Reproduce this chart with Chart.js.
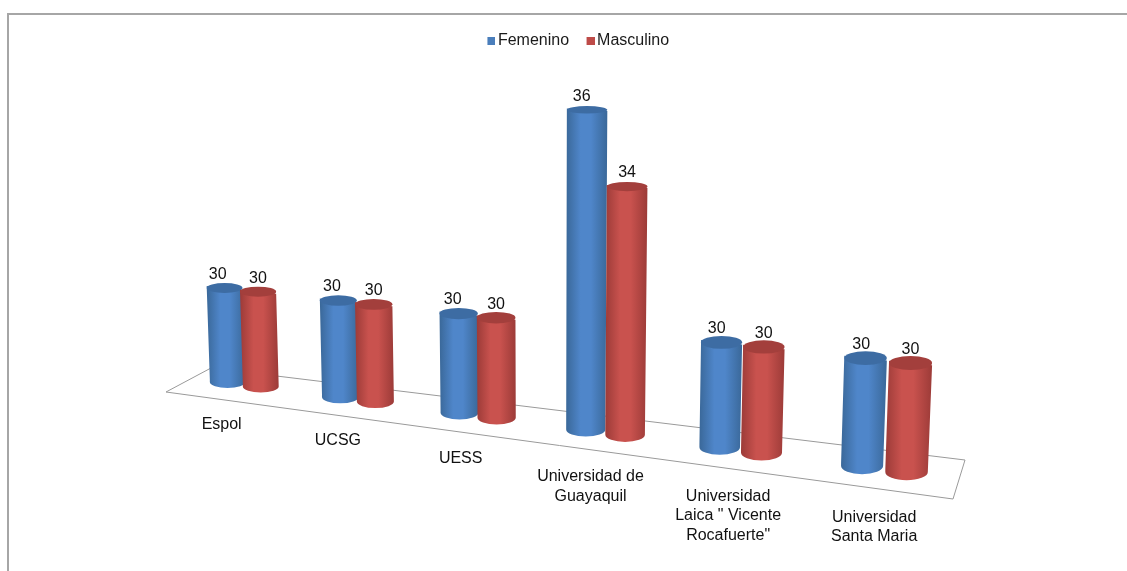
<!DOCTYPE html>
<html>
<head>
<meta charset="utf-8">
<style>
  html, body { margin: 0; background: #fff; overflow: hidden; width: 1127px; height: 571px; }
  #frame { position: absolute; left: 7px; top: 13px; width: 1200px; height: 600px; border-top: 2px solid #a6a6a6; border-left: 2px solid #a6a6a6; }
  #wrap { position: absolute; left: 0; top: 0; width: 1158px; height: 571px; }
</style>
<script src="https://cdn.jsdelivr.net/npm/chart.js@4/dist/chart.umd.min.js"></script>
</head>
<body>
<div id="frame"></div>
<div id="wrap"><canvas id="c" width="1158" height="571"></canvas></div>
<script>
const categories = ['Espol', 'UCSG', 'UESS', ['Universidad de', 'Guayaquil'], ['Universidad', 'Laica " Vicente', 'Rocafuerte"'], ['Universidad', 'Santa Maria']];
const femenino = [30, 30, 30, 36, 30, 30];
const masculino = [30, 30, 30, 34, 30, 30];

const FONT = '16px "Liberation Sans", Arial, sans-serif';

// 차트 평면(u, v: 0~1) -> 화면 좌표. 원본의 3D 원근을 평면 호모그래피로 근사
const planeFit = [
  [0.0583, 0, 227.5, 382], [0.0583, 0.29, 224.5, 288],
  [0.9417, 0, 906.5, 472], [0.9417, 0.29, 910.5, 363],
];
const floorQuad = [[166, 392], [211, 368], [965, 460], [953, 499]];

function solveHomography(pairs) {
  const m = [];
  pairs.forEach(([u, v, x, y]) => {
    m.push([u, v, 1, 0, 0, 0, -u * x, -v * x, x]);
    m.push([0, 0, 0, u, v, 1, -u * y, -v * y, y]);
  });
  for (let i = 0; i < 8; i++) {
    let p = i;
    for (let r = i + 1; r < 8; r++) if (Math.abs(m[r][i]) > Math.abs(m[p][i])) p = r;
    [m[i], m[p]] = [m[p], m[i]];
    for (let r = 0; r < 8; r++) {
      if (r === i) continue;
      const f = m[r][i] / m[i][i];
      for (let c = i; c < 9; c++) m[r][c] -= f * m[i][c];
    }
  }
  return m.map((row, i) => row[8] / row[i]);
}
const H = solveHomography(planeFit);
function project(u, v) {
  const w = H[6] * u + H[7] * v + 1;
  return { x: (H[0] * u + H[1] * v + H[2]) / w, y: (H[3] * u + H[4] * v + H[5]) / w };
}

// 범례용 작은 사각형 (오른쪽으로 치우쳐 글자와 간격을 좁힘)
function legendBox(color) {
  const b = document.createElement('canvas');
  b.width = 12; b.height = 8;
  const g = b.getContext('2d');
  g.fillStyle = color;
  g.fillRect(4, 0, 8, 8);
  return b;
}

const shades = [
  { edge: '#3a6899', mid: '#4f86ca', cap: '#3d6ca3' },
  { edge: '#9c3b38', mid: '#c9524e', cap: '#a33f3c' },
];

function drawCylinder(ctx, el, area, shade) {
  const uMid = (el.x - area.left) / area.width;
  // 오른쪽으로 갈수록 호모그래피가 폭을 과하게 키워서 보정
  const half = el.width / 2 * (1 - 0.14 * (uMid - 0.06)) / area.width;
  const uL = uMid - half, uR = uMid + half;
  const vT = (area.bottom - el.y) / area.height;
  // 막대 base는 0 기준이라 축 아래로 나가므로 바닥(v=0)에서 자른다
  const vB = Math.max(0, (area.bottom - el.base) / area.height);
  const tl = project(uL, vT), tr = project(uR, vT), bl = project(uL, vB), br = project(uR, vB);
  const flat = v => 0.36 - 0.2 * v + 0.06 * (uMid - 0.5);
  const rxT = (tr.x - tl.x) / 2, rxB = (br.x - bl.x) / 2;

  const grad = ctx.createLinearGradient(Math.min(tl.x, bl.x), 0, Math.max(tr.x, br.x), 0);
  grad.addColorStop(0, shade.edge);
  grad.addColorStop(0.35, shade.mid);
  grad.addColorStop(0.6, shade.mid);
  grad.addColorStop(1, shade.edge);

  ctx.beginPath();
  ctx.moveTo(tl.x, tl.y);
  ctx.lineTo(bl.x, bl.y);
  ctx.ellipse((bl.x + br.x) / 2, (bl.y + br.y) / 2, rxB, rxB * flat(vB), 0, Math.PI, 0, true);
  ctx.lineTo(tr.x, tr.y);
  ctx.closePath();
  ctx.fillStyle = grad;
  ctx.fill();

  ctx.beginPath();
  ctx.ellipse((tl.x + tr.x) / 2, (tl.y + tr.y) / 2, rxT, rxT * flat(vT), 0, 0, Math.PI * 2);
  ctx.fillStyle = shade.cap;
  ctx.fill();
}

const cylinderPlugin = {
  id: 'cylinders',
  // 기본 막대 대신 스케일이 계산한 막대 요소로 원기둥을 그린다
  beforeDatasetsDraw(chart) {
    const { ctx, chartArea: area, data } = chart;
    ctx.save();
    ctx.beginPath();
    floorQuad.forEach(([x, y], i) => i ? ctx.lineTo(x, y) : ctx.moveTo(x, y));
    ctx.closePath();
    ctx.strokeStyle = '#9a9a9a';
    ctx.lineWidth = 1;
    ctx.stroke();

    const metas = data.datasets.map((_, i) => chart.getDatasetMeta(i));
    data.labels.forEach((_, i) => {
      metas.forEach((meta, d) => drawCylinder(ctx, meta.data[i], area, shades[d]));
    });

    ctx.font = FONT;
    ctx.fillStyle = '#111';
    ctx.textAlign = 'center';
    ctx.textBaseline = 'middle';
    metas.forEach((meta, d) => {
      meta.data.forEach((el, i) => {
        const u = (el.x - area.left) / area.width;
        const p = project(u, (area.bottom - el.y) / area.height);
        ctx.fillText(String(data.datasets[d].data[i]), p.x + (d === 0 ? -7 + 3 * u : 0), p.y - 13.5);
      });
    });

    // 카테고리 라벨: 바닥면 앞쪽 아래로
    const xScale = chart.scales.x;
    data.labels.forEach((label, i) => {
      const u = (xScale.getPixelForValue(i) - area.left) / area.width;
      const p = project(u, -0.115);
      const lines = Array.isArray(label) ? label : [label];
      lines.forEach((line, k) => ctx.fillText(line, p.x - 25 + 18 * u, p.y + 3 + 3 * u + k * 19.5));
    });
    ctx.restore();
    return false;
  },
};

new Chart(document.getElementById('c'), {
  type: 'bar',
  data: {
    labels: categories,
    datasets: [
      { label: 'Femenino', data: femenino, backgroundColor: '#4a7ebb' },
      { label: 'Masculino', data: masculino, backgroundColor: '#be4b48' },
    ],
  },
  options: {
    responsive: false,
    animation: false,
    layout: { padding: { top: 14, left: 20, right: 20, bottom: 20 } },
    datasets: { bar: { categoryPercentage: 0.6, barPercentage: 1.08 } },
    plugins: {
      tooltip: { enabled: false },
      legend: {
        position: 'top',
        labels: {
          font: { size: 16, family: '"Liberation Sans", Arial, sans-serif' },
          color: '#1a1a1a',
          usePointStyle: true,
          boxWidth: 1,
          padding: 19,
          generateLabels(chart) {
            return Chart.defaults.plugins.legend.labels.generateLabels(chart).map((it, i) => {
              it.pointStyle = legendBox(['#4a7ebb', '#be4b48'][i]);
              return it;
            });
          },
        },
      },
    },
    scales: {
      x: { display: false },
      y: { display: false, min: 27.1, max: 37.1 },
    },
  },
  plugins: [cylinderPlugin],
});
</script>
</body>
</html>
